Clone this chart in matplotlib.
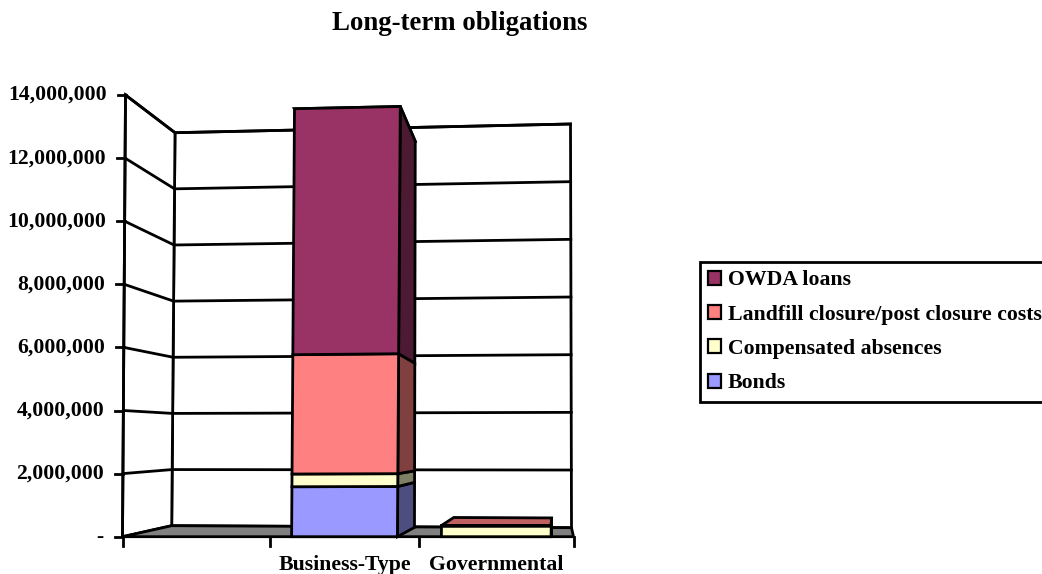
import numpy as np
import matplotlib
matplotlib.use("Agg")
import matplotlib.pyplot as plt
from matplotlib.patches import Polygon, Patch
from matplotlib.colors import to_rgb

# ---------------- data ----------------
categories = ["", "Business-Type", "Governmental"]
series_names = ["Bonds", "Compensated absences",
                "Landfill closure/post closure costs", "OWDA loans"]
bonds = [0, 1_570_000, 0]
compensated = [0, 400_000, 330_000]
landfill = [0, 3_750_000, 20_000]
owda = [0, 7_730_000, 0]
series_values = [bonds, compensated, landfill, owda]
series_colors = ["#9999FF", "#FFFFCC", "#FF8080", "#993366"]
y_ticks = [0, 2_000_000, 4_000_000, 6_000_000, 8_000_000,
           10_000_000, 12_000_000, 14_000_000]
y_tick_labels = ["-", "2,000,000", "4,000,000", "6,000,000", "8,000,000",
                 "10,000,000", "12,000,000", "14,000,000"]
title = "Long-term obligations"

# ---------------- layout / projection ----------------
W, H = 1042, 574
VMAX = y_ticks[-1]
NCAT = len(categories)
FONT = "Liberation Serif"
FS = 15.7
LW = 2.0

# screen position of plot box corners: key (x_frac, v_frac)
FRONT = {(0, 0): (122.5, 536.7), (0, 1): (125.5, 95.0),
         (1, 0): (573.5, 536.7), (1, 1): (576.5, 85.0)}
BACK = {(0, 0): (171.7, 525.7), (0, 1): (175.0, 132.7),
        (1, 0): (571.5, 527.7), (1, 1): (570.5, 124.0)}
XWARP = [0.0, 147.5 / 451, 296.5 / 451, 1.0]
BAR_GAP = 0.145
BAR_DEPTH = (0.0, 0.95)


def _plane(C, a, b):
    return (np.array(C[(0, 0)]) * (1 - a) * (1 - b) + np.array(C[(1, 0)]) * a * (1 - b)
            + np.array(C[(0, 1)]) * (1 - a) * b + np.array(C[(1, 1)]) * a * b)


def proj(u, v, z):
    a = np.interp(u, np.arange(NCAT + 1), XWARP)
    b = v / VMAX
    return _plane(FRONT, a, b) * (1 - z) + _plane(BACK, a, b) * z


def shade(c, f):
    r, g, b = to_rgb(c)
    return (r * f, g * f, b * f)


fig = plt.figure(figsize=(W / 100, H / 100), dpi=100)
ax = fig.add_axes([0, 0, 1, 1])
ax.set_xlim(0, W)
ax.set_ylim(H, 0)
ax.axis("off")


def poly(pts, fc, z=1):
    ax.add_patch(Polygon(np.array(pts), closed=True, facecolor=fc,
                         edgecolor="black", linewidth=LW, joinstyle="miter", zorder=z))


# walls
poly([proj(0, 0, 1), proj(NCAT, 0, 1), proj(NCAT, VMAX, 1), proj(0, VMAX, 1)], "white", 1)
poly([proj(0, 0, 0), proj(0, 0, 1), proj(0, VMAX, 1), proj(0, VMAX, 0)], "white", 1)

# gridlines
for v in y_ticks[1:]:
    pts = np.array([proj(0, v, 0), proj(0, v, 1), proj(NCAT, v, 1)])
    ax.plot(pts[:, 0], pts[:, 1], color="black", lw=LW, zorder=2,
            solid_joinstyle="miter")

# floor
poly([proj(0, 0, 0), proj(NCAT, 0, 0), proj(NCAT, 0, 1), proj(0, 0, 1)], "#808080", 3)

# value axis (front)
p0, p1 = proj(0, 0, 0), proj(0, VMAX, 0)
ax.plot([p0[0], p1[0]], [p0[1], p1[1]], color="black", lw=LW, zorder=4)
for v, lab in zip(y_ticks, y_tick_labels):
    p = proj(0, v, 0)
    ax.plot([p[0] - 8, p[0]], [p[1], p[1]], color="black", lw=LW, zorder=4)
    ax.text(p[0] - 19, p[1], lab, ha="right", va="center", fontsize=FS,
            fontweight="bold", family=FONT, zorder=4)

# category axis ticks and labels
for u in range(NCAT + 1):
    p = proj(u, 0, 0)
    ax.plot([p[0], p[0]], [p[1], p[1] + 9], color="black", lw=LW, zorder=4)
for i, lab in enumerate(categories):
    p = proj(i + 0.5, 0, 0)
    ax.text(p[0], p[1] + 28, lab, ha="center", va="center", fontsize=FS,
            fontweight="bold", family=FONT, zorder=4)

# bars
z0, z1 = BAR_DEPTH
for i in range(NCAT):
    u0, u1 = i + BAR_GAP, i + 1 - BAR_GAP
    cum = 0
    for vals, col in zip(series_values, series_colors):
        val = vals[i]
        if val <= 0:
            continue
        v0, v1 = cum, cum + val
        cum = v1
        poly([proj(u0, v1, z0), proj(u1, v1, z0), proj(u1, v1, z1), proj(u0, v1, z1)],
             shade(col, 0.75), 5)
        poly([proj(u1, v0, z0), proj(u1, v0, z1), proj(u1, v1, z1), proj(u1, v1, z0)],
             shade(col, 0.5), 5)
        poly([proj(u0, v0, z0), proj(u1, v0, z0), proj(u1, v1, z0), proj(u0, v1, z0)],
             col, 5)

# title
fig.text(460 / W, 1 - 23 / H, title, ha="center", va="center", fontsize=19.3,
         fontweight="bold", family=FONT)

# legend
handles = [Patch(facecolor=c, edgecolor="black", linewidth=1.6)
           for c in series_colors][::-1]
leg = ax.legend(handles, series_names[::-1], loc="upper left",
                bbox_to_anchor=(700 / W, 1 - 262 / H), bbox_transform=fig.transFigure,
                prop={"family": FONT, "weight": "bold", "size": FS},
                frameon=True, fancybox=False, framealpha=1, edgecolor="black",
                borderaxespad=0, borderpad=0.38, handlelength=0.6, handleheight=0.6,
                handletextpad=0.3, labelspacing=0.66)
leg.get_frame().set_linewidth(LW)

fig.savefig("out.png", dpi=100)
